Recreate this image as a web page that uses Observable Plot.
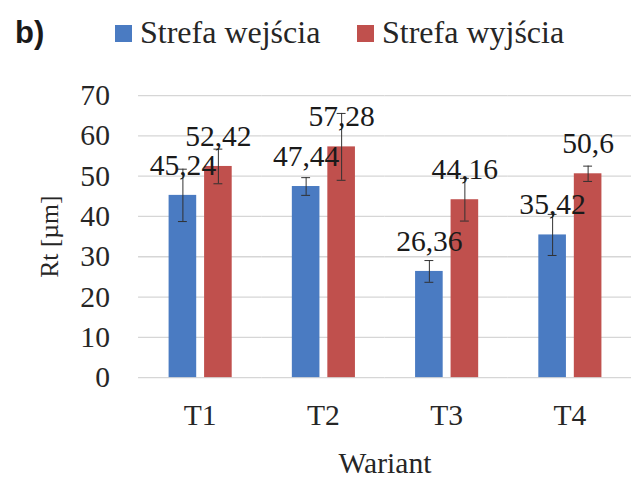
<!DOCTYPE html>
<html>
<head>
<meta charset="utf-8">
<script src="https://cdn.jsdelivr.net/npm/d3@7"></script>
<script src="https://cdn.jsdelivr.net/npm/@observablehq/plot@0.6"></script>
<style>
  html, body { margin: 0; padding: 0; background: #fff; overflow: hidden; }
  #wrap { position: relative; width: 631px; height: 480px; overflow: hidden; background: #fff; }
  #legend { position: relative; width: 631px; height: 70px; }
  #legend .tag { position: absolute; left: 15px; top: 17px; font: bold 31px/31px "Liberation Sans", Arial, sans-serif; color: #1a1a1a; }
  #legend .sw { position: absolute; top: 25px; width: 17px; height: 17px; }
  #legend .lt { position: absolute; top: 16px; font: 32px/32px "Liberation Serif", "Times New Roman", serif; color: #262626; white-space: nowrap; }
  #chart g[aria-label="y-axis label"] text { font-size: 26px; }
</style>
</head>
<body>
<div id="wrap">
  <div id="legend"></div>
  <div id="chart"></div>
</div>
<script>
const variants = ["T1", "T2", "T3", "T4"];
const series = ["Strefa wejścia", "Strefa wyjścia"];
const inletValues = [45.24, 47.44, 26.36, 35.42];
const outletValues = [52.42, 57.28, 44.16, 50.6];
const inletErrors = [6.5, 2.2, 2.7, 5.1];
const outletErrors = [4.3, 8.3, 5.3, 1.9];
const yTicks = [0, 10, 20, 30, 40, 50, 60, 70];
const colors = ["#4A7BC2", "#C0504D"];

const data = [];
variants.forEach((v, i) => {
  data.push({variant: v, series: series[0], value: inletValues[i], err: inletErrors[i]});
  data.push({variant: v, series: series[1], value: outletValues[i], err: outletErrors[i]});
});
data.forEach(d => { d.lo = d.value - d.err; d.hi = d.value + d.err; d.label = String(d.value).replace(".", ","); });

// Legend (HTML, above the SVG)
const legend = document.getElementById("legend");
legend.innerHTML = `<span class="tag">b)</span>`;
const legendPos = [{sw: 115, lt: 140}, {sw: 357, lt: 382}];
series.forEach((s, i) => {
  const sw = document.createElement("span");
  sw.className = "sw"; sw.style.left = legendPos[i].sw + "px"; sw.style.background = colors[i];
  const lt = document.createElement("span");
  lt.className = "lt"; lt.style.left = legendPos[i].lt + "px"; lt.textContent = s;
  legend.append(sw, lt);
});

const serif = "'Liberation Serif', 'Times New Roman', serif";
const chart = Plot.plot({
  width: 640,
  height: 410,
  marginLeft: 139,
  marginRight: 0,
  marginTop: 25.5,
  marginBottom: 98.5,
  style: {fontFamily: serif, fontSize: "30px", color: "#262626", background: "white", overflow: "visible"},
  fx: {domain: variants, padding: 0, axis: "bottom", label: "Wariant", labelAnchor: "center", labelOffset: 97, tickSize: 0, tickPadding: 27, labelArrow: false},
  x: {domain: series, paddingInner: 0.233, paddingOuter: 0.833, axis: null},
  y: {domain: [0, 70], ticks: yTicks, tickSize: 0, tickPadding: 29, label: "Rt [µm]", labelAnchor: "center", labelOffset: 100, labelArrow: false},
  color: {domain: series, range: colors},
  marks: [
    Plot.ruleY(yTicks, {stroke: "#d6d6d6", strokeWidth: 1.3}),
    Plot.barY(data, {fx: "variant", x: "series", y: "value", fill: "series"}),
    Plot.ruleX(data, {fx: "variant", x: "series", y1: "lo", y2: "hi", stroke: "#303030", strokeWidth: 1}),
    Plot.tickY(data, {fx: "variant", x: "series", y: "lo", stroke: "#303030", strokeWidth: 1, insetLeft: 9.5, insetRight: 9.5}),
    Plot.tickY(data, {fx: "variant", x: "series", y: "hi", stroke: "#303030", strokeWidth: 1, insetLeft: 9.5, insetRight: 9.5}),
    Plot.text(data, {fx: "variant", x: "series", y: "value", text: "label", dy: -21, lineAnchor: "bottom", fill: "#1a1a1a", fontSize: 30, fontFamily: serif})
  ]
});
document.getElementById("chart").append(chart);
</script>
</body>
</html>
